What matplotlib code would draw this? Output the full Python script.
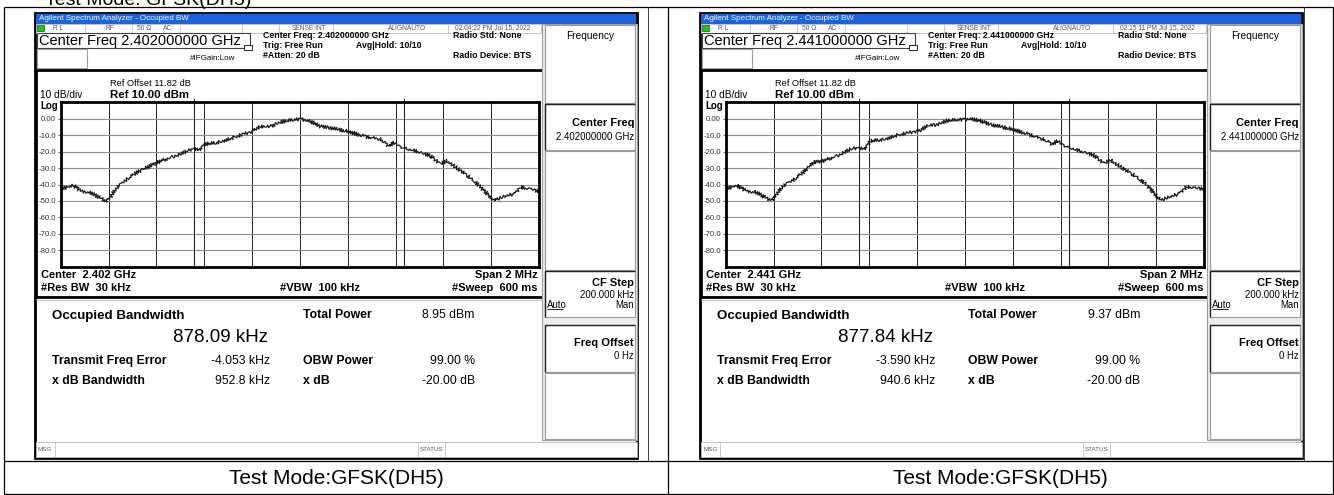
import numpy as np
import matplotlib.pyplot as plt
from matplotlib.patches import Rectangle

plt.rcParams['font.family'] = ['Liberation Sans', 'DejaVu Sans']

# ---- values ----
freq_left_khz = [-1000, -945, -917, -882, -854, -826, -813, -792, -764, -722, -680, -638,
                 -597, -541, -485, -443, -422, -401, -346, -290, -234, -199, -164, -123,
                 -81, -25, 3, 45, 86, 128, 198, 268, 337, 372, 393, 435, 477, 546, 588,
                 616, 672, 728, 776, 811, 853, 895, 923, 964, 1000]
level_left_dbm = [-42.6, -40.6, -44.0, -44.6, -46.6, -49.0, -50.6, -47.6, -41.6, -36.6,
                  -32.6, -29.6, -26.6, -23.6, -20.6, -18.0, -19.2, -15.6, -14.6, -12.0,
                  -9.2, -7.6, -4.6, -4.6, -2.0, -0.6, -0.2, -1.6, -4.6, -5.6, -7.6, -10.6,
                  -12.6, -16.6, -14.6, -18.0, -19.2, -22.6, -27.6, -25.6, -31.6, -37.6,
                  -44.6, -49.6, -47.6, -45.6, -41.6, -42.6, -44.2]

freq_right_khz = [-1000, -954, -912, -877, -849, -821, -807, -786, -758, -717, -675, -633,
                  -591, -535, -479, -445, -423, -395, -340, -284, -228, -186, -158, -117,
                  -75, -19, 23, 65, 107, 162, 204, 246, 302, 344, 365, 386, 428, 484, 539,
                  581, 609, 665, 721, 763, 805, 819, 860, 888, 930, 972, 1000]
level_right_dbm = [-42.6, -40.6, -44.0, -44.6, -46.6, -49.2, -49.6, -45.6, -40.6, -37.2,
                   -32.6, -26.6, -25.6, -22.6, -18.6, -17.6, -18.6, -13.6, -12.6, -10.0,
                   -8.2, -7.2, -4.0, -3.6, -1.2, -0.6, 0.0, -1.2, -3.6, -5.2, -6.6, -8.6,
                   -11.2, -13.6, -15.6, -13.6, -17.2, -19.6, -22.2, -27.2, -25.2, -30.6,
                   -35.6, -40.6, -47.6, -49.6, -47.6, -46.0, -41.2, -42.2, -42.6]

center_ghz = ["2.402", "2.441"]
timestamps = ["02:04:22 PM Jul 15, 2022", "02:15:11 PM Jul 15, 2022"]
obw_khz = [878.09, 877.84]
total_power_dbm = [8.95, 9.37]
freq_error_khz = [-4.053, -3.590]
xdb_bw_khz = [952.8, 940.6]
obw_power_pct = [99.00, 99.00]
xdb_db = [-20.00, -20.00]
test_mode = "Test Mode:GFSK(DH5)"

W, H = 1334, 495
fig = plt.figure(figsize=(W / 100, H / 100), dpi=100)
bg = fig.add_axes([0, 0, 1, 1])
bg.set_xlim(0, W)
bg.set_ylim(H, 0)
bg.axis('off')


def box(x0, y0, x1, y1, fc='white', ec='#a0a0a0', lw=0.8, z=1):
    bg.add_patch(Rectangle((x0, y0), x1 - x0, y1 - y0, facecolor=fc,
                           edgecolor=ec, linewidth=lw, zorder=z))


def line(xs, ys, color='black', lw=0.8, z=2):
    bg.plot(xs, ys, color=color, lw=lw, zorder=z, solid_capstyle='butt')


def txt(x, y, s, size=7, weight='normal', ha='left', color='black', **kw):
    bg.text(x, y, s, fontsize=size, fontweight=weight, ha=ha, va='center',
            color=color, zorder=5, **kw)


def draw_panel(i, dx, freqs, levels):
    X = lambda x: x + dx
    # window frame + title bar
    box(X(35), 13, X(637), 458, fc='white', ec='black', lw=2)
    bg.add_patch(Rectangle((X(36), 13.5), 600, 10, facecolor='#1a64dc',
                           edgecolor='none', zorder=2))
    txt(X(39), 18.5, 'Agilent Spectrum Analyzer - Occupied BW', 5.8, color='white')

    # status row
    box(X(36), 23.5, X(541), 32.5, ec='#b8b8b8', lw=0.6, z=2)
    for xv in [85, 132, 180, 242, 279, 333, 448]:
        line([X(xv), X(xv)], [23.5, 32.5], color='#c0c0c0', lw=0.6)
    bg.add_patch(Rectangle((X(37), 25), 7, 6, facecolor='#22c022',
                           edgecolor='#106010', lw=0.5, zorder=3))
    st = '#555555'
    txt(X(53), 28, 'R L', 4.8, color=st)
    txt(X(105), 28, 'RF', 4.8, color=st)
    txt(X(137), 28, '50 Ω', 4.8, color=st)
    txt(X(163), 28, 'AC', 4.8, color=st)
    txt(X(292), 28, 'SENSE:INT', 4.8, color=st)
    txt(X(388), 28, 'ALIGNAUTO', 4.8, color=st)
    txt(X(455), 28, timestamps[i], 4.8, color=st)

    # center freq header
    box(X(37), 33, X(250), 47.5, ec='#404040', lw=0.8, z=2)
    txt(X(39), 40.5, f'Center Freq {center_ghz[i]}000000 GHz', 10.5)
    box(X(37), 49, X(87), 68, ec='#a0a0a0', lw=0.8, z=2)
    txt(X(190), 59, '#IFGain:Low', 5.8)
    bg.add_patch(Rectangle((X(244), 45), 8, 5, facecolor='white',
                           edgecolor='black', lw=0.6, zorder=4))
    txt(X(263), 35.5, f'Center Freq: {center_ghz[i]}000000 GHz', 6.3, 'bold')
    txt(X(263), 45, 'Trig: Free Run', 6.3, 'bold')
    txt(X(263), 55, '#Atten: 20 dB', 6.3, 'bold')
    txt(X(356), 45, 'Avg|Hold: 10/10', 6.3, 'bold')
    txt(X(453), 35.5, 'Radio Std: None', 6.3, 'bold')
    txt(X(453), 55, 'Radio Device: BTS', 6.3, 'bold')

    # graticule frame
    box(X(36), 70, X(543), 297, ec='black', lw=2, z=2)
    txt(X(110), 84, 'Ref Offset 11.82 dB', 6.7)
    txt(X(110), 95, 'Ref 10.00 dBm', 8.2, 'bold')
    txt(X(40), 95.5, '10 dB/div', 7.3)
    txt(X(40), 106, 'Log', 7, 'bold')
    txt(X(41), 275, f'Center  {center_ghz[i]} GHz', 8, 'bold')
    txt(X(41), 288, '#Res BW  30 kHz', 8, 'bold')
    txt(X(280), 288, '#VBW  100 kHz', 8, 'bold')
    txt(X(538), 275, 'Span 2 MHz', 8, 'bold', ha='right')
    txt(X(538), 288, '#Sweep  600 ms', 8, 'bold', ha='right')

    # measurement results
    line([X(36), X(541)], [299.5, 299.5], color='#c8c8c8', lw=0.8)
    txt(X(52), 316, 'Occupied Bandwidth', 9.6, 'bold')
    txt(X(173), 337.5, f'{obw_khz[i]:.2f} kHz', 13.5)
    txt(X(303), 315, 'Total Power', 8.8, 'bold')
    txt(X(475), 315, f'{total_power_dbm[i]:.2f} dBm', 8.8, ha='right')
    txt(X(52), 361, 'Transmit Freq Error', 8.8, 'bold')
    txt(X(270), 361, f'{freq_error_khz[i]:.3f} kHz', 8.8, ha='right')
    txt(X(303), 361, 'OBW Power', 8.8, 'bold')
    txt(X(475), 361, f'{obw_power_pct[i]:.2f} %', 8.8, ha='right')
    txt(X(52), 381.5, 'x dB Bandwidth', 8.8, 'bold')
    txt(X(270), 381.5, f'{xdb_bw_khz[i]:.1f} kHz', 8.8, ha='right')
    txt(X(303), 381.5, 'x dB', 8.8, 'bold')
    txt(X(475), 381.5, f'{xdb_db[i]:.2f} dB', 8.8, ha='right')

    # message bar
    box(X(36), 442, X(637), 457, ec='#b8b8b8', lw=0.6, z=2)
    for xv in [55, 418, 445]:
        line([X(xv), X(xv)], [442, 457], color='#c0c0c0', lw=0.6)
    txt(X(38), 449.5, 'MSG', 4.5, color='#555555')
    txt(X(420), 449.5, 'STATUS', 4.5, color='#555555')

    # soft key panel
    box(X(542), 24, X(637), 440, fc='#ececec', ec='#a0a0a0', lw=0.8, z=2)
    for y0, y1, dark in [(25, 103, False), (104, 150, True), (151, 270, False),
                         (271, 317, True), (325, 372, True), (373, 439, False)]:
        box(X(545), y0, X(635), y1, fc='white', ec='#9a9a9a', lw=0.8, z=3)
        if dark:
            line([X(545), X(545), X(635)], [y1, y0, y0], color='#202020', lw=1.0, z=3)
    txt(X(590), 36, 'Frequency', 7.3, ha='center')
    txt(X(634), 123, 'Center Freq', 8, 'bold', ha='right')
    txt(X(634), 137, f'{center_ghz[i]}000000 GHz', 6.9, ha='right')
    txt(X(634), 283, 'CF Step', 8, 'bold', ha='right')
    txt(X(634), 295, '200.000 kHz', 6.9, ha='right')
    txt(X(547), 305, 'Auto', 6.9)
    line([X(547), X(563)], [309, 309], color='black', lw=0.6, z=4)
    txt(X(634), 305, 'Man', 6.9, ha='right')
    txt(X(634), 343, 'Freq Offset', 8, 'bold', ha='right')
    txt(X(634), 356, '0 Hz', 6.9, ha='right')

    # trace graticule
    ax = fig.add_axes([X(60.7) / W, 1 - 266.7 / H, 478.3 / W, 164.4 / H])
    ax.set_zorder(10)
    ax.set_xlim(-1000, 1000)
    ax.set_ylim(-90, 10)
    ax.set_xticks(np.arange(-1000, 1001, 200))
    ax.set_yticks(np.arange(-80, 1, 10))
    ax.set_yticklabels(['-80.0', '-70.0', '-60.0', '-50.0', '-40.0', '-30.0',
                        '-20.0', '-10.0', '0.00'])
    ax.set_xticklabels([])
    ax.tick_params(axis='x', length=0)
    ax.tick_params(axis='y', length=2.5, color='#666666', labelsize=5.6,
                   labelcolor='#333333', pad=0.8)
    ax.xaxis.grid(True, color='#202020', lw=0.7)
    ax.yaxis.grid(True, color='#909090', lw=0.8)
    for sp in ax.spines.values():
        sp.set_linewidth(2)
        sp.set_color('black')
    half = obw_khz[i] / 2
    for f in (freq_error_khz[i] - half, freq_error_khz[i] + half):
        ax.axvline(f, color='#202020', lw=0.8)
        ax.plot([f, f], [10, 12], color='#202020', lw=0.8, clip_on=False)
    tr, = ax.plot(freqs, levels, color='#1a1a1a', lw=0.9)
    tr.set_sketch_params(1.8, 2.0, 1.5)


draw_panel(0, 0, freq_left_khz, level_left_dbm)
draw_panel(1, 665, freq_right_khz, level_right_dbm)

# report table lines
for xv in [4, 668, 1333]:
    line([xv, xv], [7, 494], lw=0.9, z=6)
for yv in [7, 461, 494]:
    line([4, 1333], [yv, yv], lw=0.9, z=6)
for xv in [648, 1304]:
    line([xv, xv], [7, 461], color='#404040', lw=0.7, z=6)

# caption of the previous table row, cut by the page edge as in the source
bg.text(45, 5, 'Test Mode: GFSK(DH5)', fontsize=14, va='baseline', ha='left')
bg.text(336, 478, test_mode, fontsize=15, va='center', ha='center')
bg.text(1000.5, 478, test_mode, fontsize=15, va='center', ha='center')

fig.savefig('out.png', dpi=100)
